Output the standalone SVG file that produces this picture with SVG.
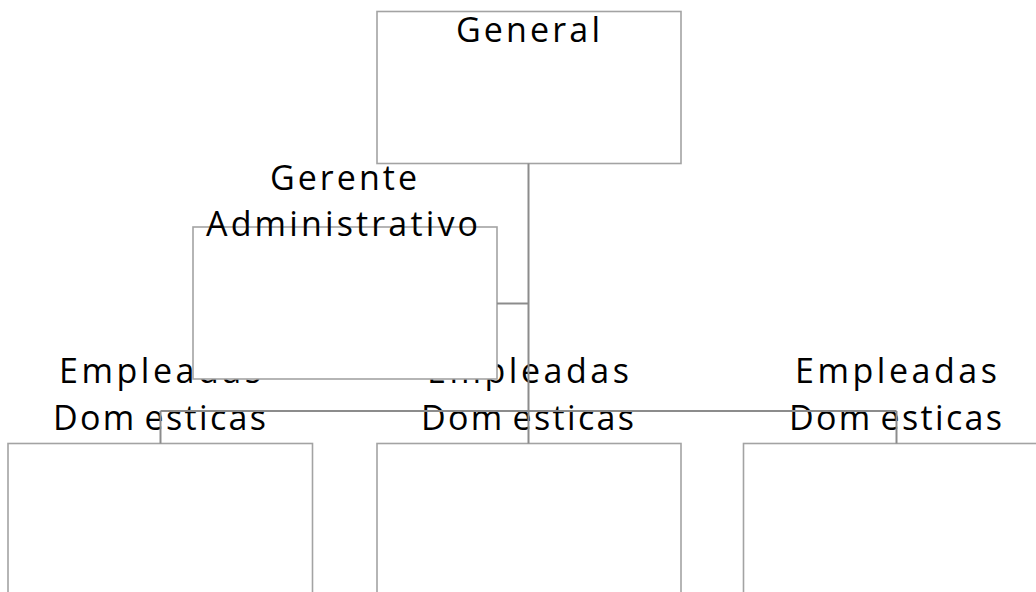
<svg xmlns="http://www.w3.org/2000/svg" width="1036" height="592" viewBox="0 0 1036 592">
<style>
.box{fill:#ffffff;stroke:#a3a3a3;stroke-width:1.6}
.lbl{font-family:"Open Sans","Liberation Sans",sans-serif;font-size:34px;fill:#000000}
.con{fill:none;stroke:#8c8c8c;stroke-width:2}
</style>
<rect width="1036" height="592" fill="#ffffff"/>
<g id="emp1">
<rect class="box" x="8" y="443.5" width="304.5" height="160"/>
<text class="lbl" x="59" y="383" textLength="202" lengthAdjust="spacing">Empleadas</text>
<text class="lbl" x="53" y="430" textLength="213" lengthAdjust="spacing">Dom<tspan dx="8">esticas</tspan></text>
</g>
<g id="emp2">
<rect class="box" x="377" y="443.5" width="304" height="160"/>
<text class="lbl" x="427" y="383" textLength="202" lengthAdjust="spacing">Empleadas</text>
<text class="lbl" x="421" y="430" textLength="213" lengthAdjust="spacing">Dom<tspan dx="8">esticas</tspan></text>
</g>
<g id="emp3">
<rect class="box" x="743.5" y="443.5" width="304" height="160"/>
<text class="lbl" x="795" y="383" textLength="202" lengthAdjust="spacing">Empleadas</text>
<text class="lbl" x="789" y="430" textLength="213" lengthAdjust="spacing">Dom<tspan dx="8">esticas</tspan></text>
</g>
<g id="general">
<rect class="box" x="377" y="11.5" width="304" height="152"/>
<text class="lbl" x="456" y="42" textLength="144" lengthAdjust="spacing">General</text>
</g>
<g id="gerente">
<rect class="box" x="193" y="227" width="304" height="152"/>
<text class="lbl" x="270" y="190" textLength="147" lengthAdjust="spacing">Gerente</text>
<text class="lbl" x="206" y="236" textLength="272" lengthAdjust="spacing">Administrativo</text>
</g>
<g id="connectors">
<path class="con" d="M528.5 163.5 V443.5"/>
<path class="con" d="M497 303.5 H528.5"/>
<path class="con" d="M160.5 411 H896.5"/>
<path class="con" d="M160.5 411 V443.5"/>
<path class="con" d="M896.5 411 V443.5"/>
</g>
</svg>
